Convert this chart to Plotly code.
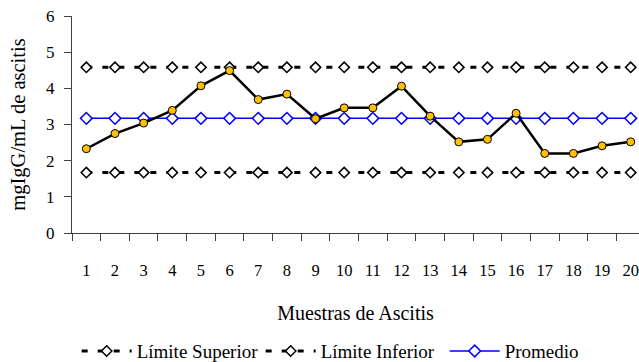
import plotly.graph_objects as go

# Sample numbers (categories on the x axis)
muestras = [str(i) for i in range(1, 21)]

# Measured IgG concentration per ascites sample (mg/mL)
concentracion = [2.33, 2.75, 3.04, 3.39, 4.07, 4.49, 3.69, 3.84, 3.16, 3.46,
                 3.46, 4.06, 3.23, 2.52, 2.59, 3.31, 2.20, 2.20, 2.41, 2.52]

# Control limits and mean
limite_superior = [4.58] * 20
limite_inferior = [1.67] * 20
promedio = [3.17] * 20

y_ticks = [0, 1, 2, 3, 4, 5, 6]

FONT = "Liberation Serif"
AXIS_COLOR = "#404040"

fig = go.Figure()

diamond_black = dict(symbol="diamond", size=8, color="white",
                     line=dict(color="black", width=1.5))

fig.add_trace(go.Scatter(
    x=muestras, y=limite_superior, name="Límite Superior",
    mode="lines+markers",
    line=dict(color="black", width=3, dash="6px,10px"),
    marker=diamond_black, cliponaxis=False,
))
fig.add_trace(go.Scatter(
    x=muestras, y=limite_inferior, name="Límite Inferior",
    mode="lines+markers",
    line=dict(color="black", width=3, dash="6px,10px"),
    marker=diamond_black, cliponaxis=False,
))
fig.add_trace(go.Scatter(
    x=muestras, y=promedio, name="Promedio",
    mode="lines+markers",
    line=dict(color="#0000FF", width=1.5),
    marker=dict(symbol="diamond", size=9, color="white",
                line=dict(color="#0000FF", width=1.5)),
    cliponaxis=False,
))
fig.add_trace(go.Scatter(
    x=muestras, y=concentracion, name="Concentración",
    mode="lines+markers",
    line=dict(color="black", width=2.5),
    marker=dict(symbol="circle", size=8, color="#FFC000",
                line=dict(color="black", width=1)),
    cliponaxis=False, showlegend=False,
))

fig.update_layout(
    width=639, height=362,
    margin=dict(l=72, r=0, t=16, b=129),
    paper_bgcolor="white", plot_bgcolor="white",
    font=dict(family=FONT, size=16, color="black"),
    showlegend=True,
    legend=dict(
        orientation="h", xref="container", yref="container",
        x=0.12, xanchor="left", y=0.03, yanchor="middle",
        font=dict(family=FONT, size=19, color="black"),
        itemwidth=50, entrywidth=119, entrywidthmode="pixels",
        tracegroupgap=0, itemclick=False,
    ),
)

fig.update_xaxes(
    type="category", range=[-0.5, 19.29],
    showline=True, linecolor=AXIS_COLOR, linewidth=1,
    ticks="outside", tickson="boundaries", ticklen=7,
    tickcolor=AXIS_COLOR, ticklabelstandoff=22,
    showgrid=False, zeroline=False,
    tickfont=dict(family=FONT, size=16.5),
    title=dict(text="Muestras de Ascitis", standoff=27,
               font=dict(family=FONT, size=20)),
)
fig.update_yaxes(
    range=[0, 6], tickvals=y_ticks,
    showline=True, linecolor=AXIS_COLOR, linewidth=1,
    ticks="outside", ticklen=7, tickcolor=AXIS_COLOR,
    ticklabelstandoff=6,
    showgrid=False, zeroline=False,
    tickfont=dict(family=FONT, size=17),
    title=dict(text="mgIgG/mL de ascitis", standoff=14,
               font=dict(family=FONT, size=20.5)),
)

fig.write_html("out.html")
